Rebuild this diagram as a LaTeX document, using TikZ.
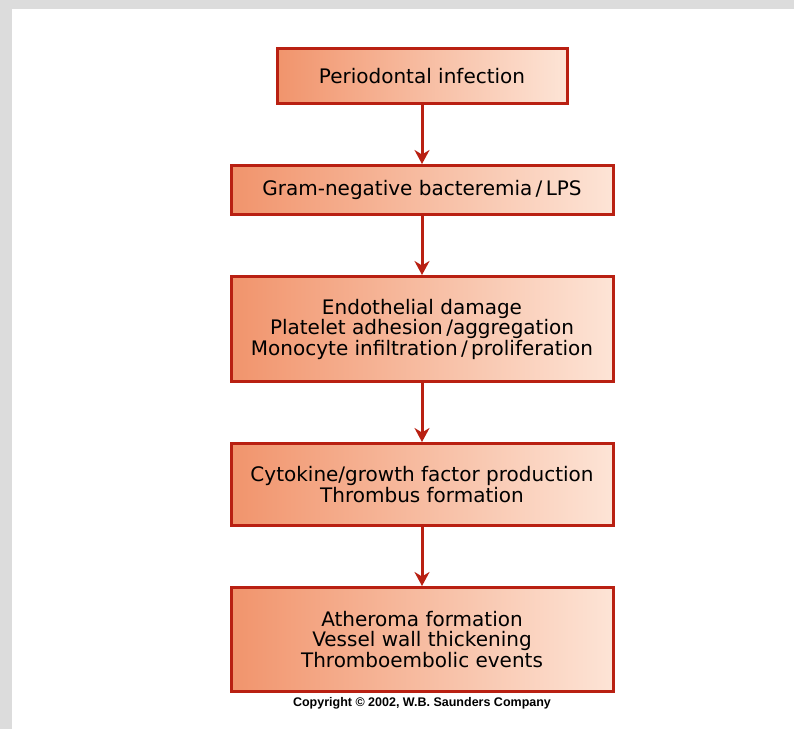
\documentclass[tikz,border=0pt]{standalone}
\usepackage{fontspec}
\setmainfont{DejaVu Sans}
\newfontfamily\copyfont{Liberation Sans}
\usetikzlibrary{positioning,arrows.meta}
\definecolor{boxL}{RGB}{241,148,108}
\definecolor{boxR}{RGB}{253,228,214}
\definecolor{rim}{RGB}{185,32,18}
\definecolor{wmark}{RGB}{220,220,220}

\begin{document}
\begin{tikzpicture}[x=1pt,y=1pt,>={Stealth[length=14pt,width=15pt]},node distance=59pt,
  stage/.style={draw=rim,line width=3pt,left color=boxL,right color=boxR,minimum width=382pt,
    align=center,inner sep=0pt,font=\fontsize{20}{20.5}\selectfont},
  flow/.style={->,draw=rim,line width=3pt}]
  \fill[wmark] (0,0) rectangle (794,729);
  \fill[white] (12,0) rectangle (794,720);
  \useasboundingbox (0,0) rectangle (794,729);

  \node[stage,minimum width=290pt,minimum height=55pt] (infect) at (422,653) {Periodontal infection};
  \node[stage,minimum height=49pt] (bact) [below=of infect] {Gram-negative bacteremia\,/\,LPS};
  \node[stage,minimum height=105pt] (damage) [below=of bact] {Endothelial damage\\
    Platelet adhesion\,/aggregation\\Monocyte infiltration\,/\,proliferation};
  \node[stage,minimum height=82pt] (cyto) [below=of damage] {Cytokine/growth factor production\\Thrombus formation};
  \node[stage,minimum height=104pt] (athero) [below=of cyto] {Atheroma formation\\
    Vessel wall thickening\\Thromboembolic events};
  \node[inner sep=0pt,font=\copyfont\bfseries\fontsize{12.5}{14}\selectfont] (copy) [below=4pt of athero]
    {Copyright © 2002, W.B. Saunders Company};

  \draw[flow] (infect) -- (bact);
  \draw[flow] (bact) -- (damage);
  \draw[flow] (damage) -- (cyto);
  \draw[flow] (cyto) -- (athero);
\end{tikzpicture}
\end{document}
